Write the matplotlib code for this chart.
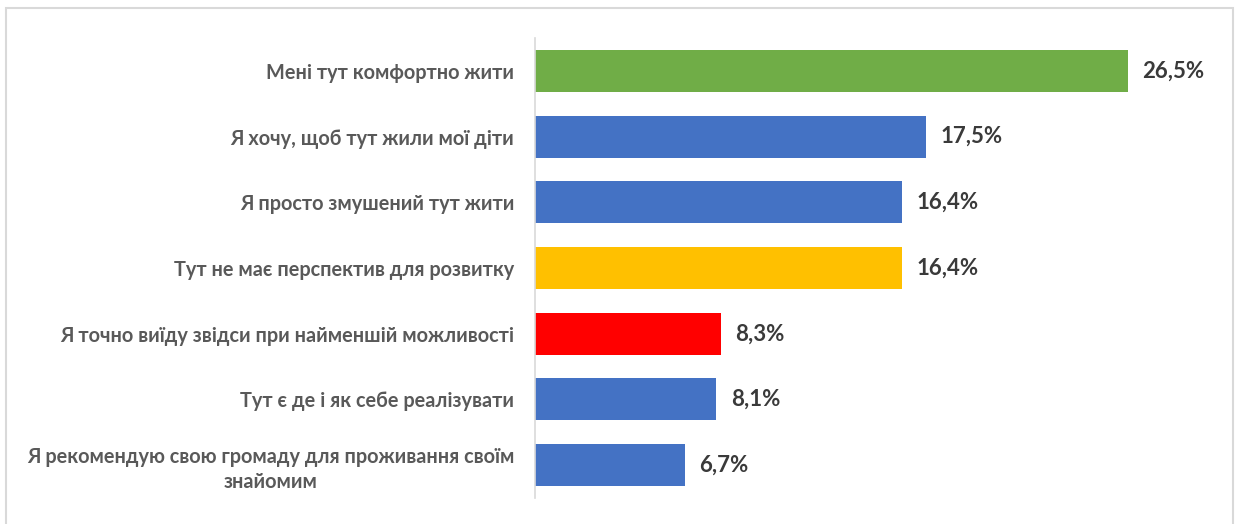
import matplotlib.pyplot as plt
from matplotlib.patches import Rectangle

# --- дані ---
labels = [
    "Мені тут комфортно жити",
    "Я хочу, щоб тут жили мої діти",
    "Я просто змушений тут жити",
    "Тут не має перспектив для розвитку",
    "Я точно виїду звідси при найменшій можливості",
    "Тут є де і як себе реалізувати",
    "Я рекомендую свою громаду для проживання своїм\nзнайомим",
]
values = [26.5, 17.5, 16.4, 16.4, 8.3, 8.1, 6.7]
colors = ["#70AD47", "#4472C4", "#4472C4", "#FFC000", "#FF0000", "#4472C4", "#4472C4"]

plt.rcParams['font.family'] = ['Lato', 'DejaVu Sans']

fig = plt.figure(figsize=(12.37, 5.24), dpi=100)
ax = fig.add_axes([535 / 1237, (524 - 498) / 524, (1206 - 535) / 1237, 460 / 524])

# рамка навколо всього рисунка
fig.patches.append(Rectangle((6 / 1237, -0.05), (1233 - 6) / 1237, 1.05 - 8 / 524,
                             transform=fig.transFigure, fill=False,
                             edgecolor="#D9D9D9", linewidth=1.5))

ypos = list(range(len(labels)))
ax.barh(ypos, values, height=0.64, color=colors)
ax.set_ylim(len(labels) - 0.5, -0.5)
ax.set_xlim(0, 30)

for y, v in zip(ypos, values):
    ax.text(v + 0.65, y, f"{v:.1f}%".replace(".", ","), va="center", ha="left",
            fontsize=16, fontweight="bold", color="#3A3A3A")

ax.set_yticks(ypos)
ax.set_yticklabels(labels, fontsize=14.3, fontweight="bold", color="#595959",
                   multialignment="center", linespacing=1.3)
ax.tick_params(axis="y", length=0, pad=15)
ax.set_xticks([])

for s in ["top", "right", "bottom"]:
    ax.spines[s].set_visible(False)
ax.spines["left"].set_color("#D9D9D9")
ax.spines["left"].set_linewidth(1.2)

fig.savefig("out.png", dpi=100)
